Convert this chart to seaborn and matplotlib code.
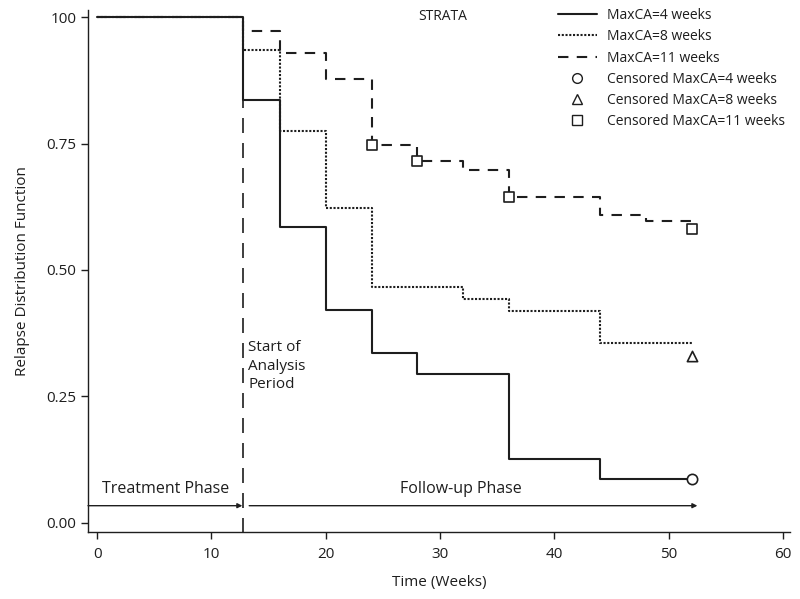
import numpy as np
import pandas as pd
import matplotlib
matplotlib.use('Agg')
import matplotlib.pyplot as plt
from matplotlib.lines import Line2D
import seaborn as sns

# step curves (x = week where the step starts, y = value from then on)
wk_4 = [0, 12.8, 16, 20, 24, 28, 36, 44, 52]
rdf_4 = [1.0, 0.836, 0.585, 0.420, 0.336, 0.294, 0.126, 0.087, 0.087]
wk_8 = [0, 12.8, 16, 20, 24, 32, 36, 44, 52]
rdf_8 = [1.0, 0.935, 0.775, 0.622, 0.466, 0.443, 0.419, 0.356, 0.356]
wk_11 = [0, 12.8, 16, 20, 24, 28, 32, 36, 44, 48, 52]
rdf_11 = [1.0, 0.972, 0.929, 0.877, 0.747, 0.715, 0.698, 0.645, 0.608, 0.596, 0.596]

# censored points
cens_4_x = [52]
cens_4_y = [0.087]
cens_8_x = [52]
cens_8_y = [0.330]
cens_11_x = [24, 28, 36, 52]
cens_11_y = [0.747, 0.715, 0.645, 0.581]

strata = ['MaxCA=4 weeks', 'MaxCA=8 weeks', 'MaxCA=11 weeks']
start_analysis = 12.8

df = pd.concat([
    pd.DataFrame({'week': wk_11, 'rdf': rdf_11, 'strata': strata[2]}),
    pd.DataFrame({'week': wk_8, 'rdf': rdf_8, 'strata': strata[1]}),
    pd.DataFrame({'week': wk_4, 'rdf': rdf_4, 'strata': strata[0]}),
])

sns.set_style('ticks')
plt.rcParams['font.family'] = ['Open Sans', 'DejaVu Sans']

ink = '#1e1e1e'
fig = plt.figure(figsize=(8, 5.99), dpi=100)
ax = fig.add_axes([88 / 800, 1 - 532 / 599, (790 - 88) / 800, (532 - 10) / 599])

sns.lineplot(data=df, x='week', y='rdf', style='strata', style_order=strata,
             dashes={strata[0]: '', strata[1]: (1, 0.8), strata[2]: (5, 4)},
             color=ink, lw=1.5, drawstyle='steps-post', estimator=None,
             sort=False, legend=False, ax=ax)

mk = dict(color='white', edgecolor=ink, linewidth=1.2, s=55, zorder=5, ax=ax)
sns.scatterplot(x=cens_4_x, y=cens_4_y, marker='o', **mk)
sns.scatterplot(x=cens_8_x, y=cens_8_y, marker='^', **mk)
sns.scatterplot(x=cens_11_x, y=cens_11_y, marker='s', **mk)

# start of analysis line
ax.plot([start_analysis, start_analysis], [-0.02, 1.0], color=ink, lw=1.2,
        linestyle=(0, (9, 6)), zorder=1)
ax.text(13.2, 0.31, 'Start of\nAnalysis\nPeriod', fontsize=11, color=ink,
        ha='left', va='center', linespacing=1.35)

# phase arrows
arr_y = 0.034
ax.annotate('', xy=(12.7, arr_y), xytext=(-0.8, arr_y),
            arrowprops=dict(arrowstyle='-|>', color=ink, lw=1.0,
                            mutation_scale=7, shrinkA=0, shrinkB=0))
ax.annotate('', xy=(52.5, arr_y), xytext=(13.3, arr_y),
            arrowprops=dict(arrowstyle='-|>', color=ink, lw=1.0,
                            mutation_scale=7, shrinkA=0, shrinkB=0))
ax.text(6.0, 0.067, 'Treatment Phase', fontsize=11.5, color=ink,
        ha='center', va='center')
ax.text(31.8, 0.067, 'Follow-up Phase', fontsize=11.5, color=ink,
        ha='center', va='center')

ax.set_xlim(-0.8, 60.6)
ax.set_ylim(-0.018, 1.014)
ax.set_xticks(np.arange(0, 61, 10))
ax.set_yticks([0, 0.25, 0.5, 0.75, 1.0])
ax.set_yticklabels(['0.00', '0.25', '0.50', '0.75', '100'])
ax.tick_params(labelsize=11, colors=ink, length=5, width=1.0)
ax.tick_params(axis='x', pad=6)
ax.set_xlabel('Time (Weeks)', fontsize=11, color=ink, labelpad=9)
ax.set_ylabel('Relapse Distribution Function', fontsize=11, color=ink,
              labelpad=12)
sns.despine(ax=ax)
for s in ['left', 'bottom']:
    ax.spines[s].set_color(ink)
    ax.spines[s].set_linewidth(1.0)

# legend
handles = [
    Line2D([], [], color=ink, lw=1.5),
    Line2D([], [], color=ink, lw=1.5, linestyle=(0, (1, 0.8))),
    Line2D([], [], color=ink, lw=1.5, linestyle=(0, (5, 4))),
    Line2D([], [], color=ink, lw=0, marker='o', mfc='white', mec=ink, ms=7),
    Line2D([], [], color=ink, lw=0, marker='^', mfc='white', mec=ink, ms=7),
    Line2D([], [], color=ink, lw=0, marker='s', mfc='white', mec=ink, ms=7),
]
labels = strata + ['Censored ' + s for s in strata]
fig.legend(handles, labels, loc='upper left', bbox_to_anchor=(558 / 800, 1 - 8 / 599),
           frameon=False, fontsize=10, handlelength=2.8, handletextpad=0.7,
           labelspacing=0.45, borderpad=0, borderaxespad=0,
           labelcolor=ink)
fig.text(418 / 800, 1 - 17 / 599, 'STRATA', fontsize=10, color=ink,
         ha='left', va='center')

fig.savefig('out.png', dpi=100)
